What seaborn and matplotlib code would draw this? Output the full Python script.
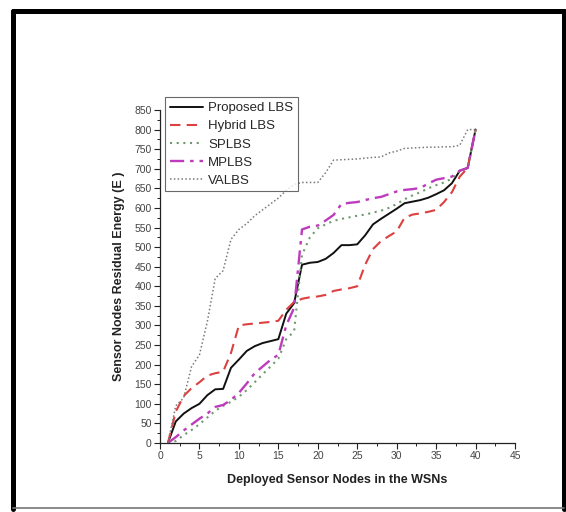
import matplotlib
matplotlib.use("Agg")
import matplotlib.pyplot as plt
from matplotlib.ticker import MultipleLocator
from matplotlib.lines import Line2D
import seaborn as sns
import pandas as pd

nodes = list(range(1, 41))
proposed = [0, 55, 75, 89, 100, 122, 137, 138, 192, 213, 235, 247, 255, 260, 265, 330, 357, 455, 460, 462,
            470, 485, 505, 505, 507, 530, 558, 572, 585, 598, 612, 616, 620, 626, 635, 645, 663, 695, 702, 800]
hybrid = [0, 80, 120, 140, 155, 172, 178, 182, 230, 300, 303, 305, 307, 309, 312, 340, 360, 368, 372, 374,
          378, 388, 392, 395, 400, 455, 495, 515, 528, 540, 575, 583, 586, 590, 595, 615, 640, 680, 702, 800]
splbs = [0, 5, 20, 33, 48, 65, 82, 95, 105, 118, 135, 155, 175, 195, 215, 265, 285, 480, 525, 548,
         558, 567, 572, 576, 580, 583, 588, 593, 600, 610, 622, 632, 640, 650, 658, 665, 675, 695, 702, 800]
mplbs = [0, 15, 32, 47, 62, 75, 92, 97, 110, 128, 152, 178, 195, 212, 225, 300, 345, 545, 552, 555,
         568, 582, 610, 613, 615, 620, 625, 628, 635, 642, 646, 648, 651, 662, 672, 676, 680, 695, 702, 800]
valbs = [0, 95, 115, 195, 225, 310, 420, 440, 520, 545, 560, 580, 595, 610, 625, 645, 660, 665, 665, 665,
         690, 722, 723, 724, 725, 727, 729, 730, 740, 745, 752, 753, 754, 755, 755, 756, 756, 760, 800, 800]

series_names = ["Proposed LBS", "Hybrid LBS", "SPLBS", "MPLBS", "VALBS"]
series_values = [proposed, hybrid, splbs, mplbs, valbs]
x_ticks = [0, 5, 10, 15, 20, 25, 30, 35, 40, 45]
y_ticks = list(range(0, 851, 50))

styles = {
    "Proposed LBS": dict(color="#111111", ls="-", lw=1.4),
    "Hybrid LBS": dict(color="#dc4040", ls=(0, (5, 3)), lw=1.5),
    "SPLBS": dict(color="#6f9a6f", ls=(0, (1, 2.2)), lw=1.5),
    "MPLBS": dict(color="#bd3bbd", ls=(0, (6, 2.5, 1.5, 2.5)), lw=1.7),
    "VALBS": dict(color="#7a7a7a", ls=(0, (1, 1.5)), lw=1.1),
}

sns.set_theme(style="ticks")
plt.rcParams["font.family"] = ["Liberation Sans", "DejaVu Sans"]

fig = plt.figure(figsize=(5.66, 5.12), dpi=100)
ax = fig.add_axes([0.2827, 0.1348, 0.6272, 0.6504])

for name, vals in zip(series_names, series_values):
    df = pd.DataFrame({"x": nodes, "y": vals})
    st = styles[name]
    sns.lineplot(data=df, x="x", y="y", ax=ax, color=st["color"], linestyle=st["ls"],
                 linewidth=st["lw"], label=name, legend=False)

ax.set_xlim(0, 45)
ax.set_ylim(0, 850)
ax.set_xticks(x_ticks)
ax.set_yticks(y_ticks)
ax.xaxis.set_minor_locator(MultipleLocator(2.5))
ax.yaxis.set_minor_locator(MultipleLocator(25))
ax.tick_params(axis="both", which="major", direction="out", length=4, width=0.8,
               labelsize=7.5, labelcolor="#444444", color="#222222", pad=2)
ax.tick_params(axis="both", which="minor", direction="out", length=2, width=0.7, color="#222222")
for s in ["top", "right"]:
    ax.spines[s].set_visible(False)
for s in ["left", "bottom"]:
    ax.spines[s].set_linewidth(0.9)
    ax.spines[s].set_color("#222222")

ax.set_xlabel("Deployed Sensor Nodes in the WSNs", fontsize=9, fontweight="bold", labelpad=9,
              color="#222222")
ax.set_ylabel("Sensor Nodes Residual Energy (E )", fontsize=9, fontweight="bold", labelpad=7,
              color="#222222")

handles = [Line2D([0], [0], color=styles[n]["color"], linestyle=styles[n]["ls"],
                  linewidth=styles[n]["lw"]) for n in series_names]
leg = ax.legend(handles, series_names, loc="upper left", bbox_to_anchor=(0.015, 1.038),
                fontsize=9.5, frameon=True, fancybox=False, handlelength=2.5,
                handletextpad=0.4, labelspacing=0.45, borderpad=0.35, borderaxespad=0)
leg.get_frame().set_edgecolor("#444444")
leg.get_frame().set_linewidth(0.8)

# figure border
fig.add_artist(Line2D([0.023, 0.023], [0.006, 0.9785], transform=fig.transFigure, color="black", lw=3.6))
fig.add_artist(Line2D([0.9965, 0.9965], [0.006, 0.9785], transform=fig.transFigure, color="black", lw=3.6))
fig.add_artist(Line2D([0.023, 0.9965], [0.9785, 0.9785], transform=fig.transFigure, color="black", lw=3.6))
fig.add_artist(Line2D([0.023, 0.9965], [0.008, 0.008], transform=fig.transFigure, color="#777777", lw=1.2))

fig.savefig("out.png", dpi=100)
